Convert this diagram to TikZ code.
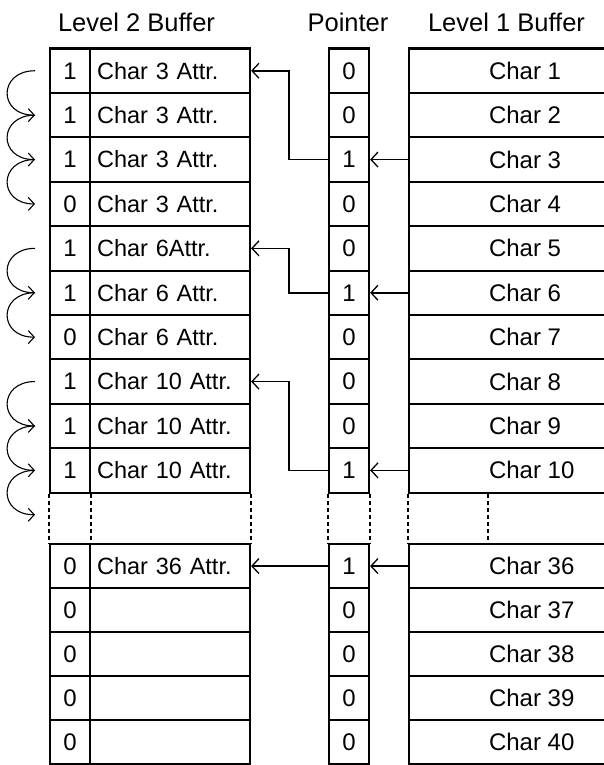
\documentclass[tikz,border=0pt]{standalone}
\usepackage{fontspec}
\setmainfont{Liberation Sans}
\usetikzlibrary{arrows.meta}
\begin{document}
\begin{tikzpicture}[x=1pt,y=-1pt,
  cell/.style={draw, line width=2.1pt, rectangle, anchor=north west, inner sep=0pt,
               font=\fontsize{24}{28}\selectfont},
  bit/.style={cell, minimum width=40pt},
  attr/.style={cell, minimum width=160pt, text width=146pt, align=left, inner xsep=7pt,
               font=\fontsize{23.5}{28}\selectfont},
  chr/.style={cell, minimum width=221pt},
  hdr/.style={anchor=base, inner sep=0pt, font=\fontsize{25.5}{30}\selectfont},
  link/.style={line width=1.7pt, -{Straight Barb[length=7pt,width=15pt,line width=1.3pt]}},
  hop/.style={line width=1.1pt, -{Straight Barb[length=6pt,width=13pt]}},
  gapline/.style={line width=1.7pt, dash pattern=on 4pt off 3pt}]
\clip (0,0) rectangle (604,765);
\fill[white] (0,0) rectangle (604,765);

\node[hdr] (h2) at (136.5,32) {Level 2 Buffer};
\node[hdr] (hp) at (348,32) {Pointer};
\node[hdr] (h1) at (506.5,32) {Level 1 Buffer};

\foreach \i/\b/\t/\p/\c in {
  1/1/Char 3 Attr./0/Char 1,
  2/1/Char 3 Attr./0/Char 2,
  3/1/Char 3 Attr./1/Char 3,
  4/0/Char 3 Attr./0/Char 4,
  5/1/Char 6Attr./0/Char 5,
  6/1/Char 6 Attr./1/Char 6,
  7/0/Char 6 Attr./0/Char 7,
  8/1/Char 10 Attr./0/Char 8,
  9/1/Char 10 Attr./0/Char 9,
  10/1/Char 10 Attr./1/Char 10,
  11/0/Char 36 Attr./1/Char 36,
  12/0//0/Char 37,
  13/0//0/Char 38,
  14/0//0/Char 39,
  15/0//0/Char 40}{
  \pgfmathsetmacro\yy{\i<11 ? 47.5+(\i-1)*44.4 : 543+(\i-11)*44}
  \pgfmathsetmacro\hh{\i<11 ? 44.4 : 44}
  \node[bit, minimum height=\hh pt]  (a\i) at (49,\yy)  {\b};
  \node[attr, minimum height=\hh pt] (b\i) at (89,\yy)  {\t};
  \node[bit, minimum height=\hh pt]  (p\i) at (328,\yy) {\p};
  \node[chr, minimum height=\hh pt]  (l\i) at (408,\yy) {\makebox[61pt][l]{\c}};
}

% dotted gap
\draw[gapline] (a10.south west) -- (a11.north west);
\draw[gapline] (a10.south east) -- (a11.north east);
\draw[gapline] (b10.south east) -- (b11.north east);
\draw[gapline] (p10.south west) -- (p11.north west);
\draw[gapline] (p10.south east) -- (p11.north east);
\draw[gapline] (l10.south west) -- (l11.north west);
\draw[gapline] ([xshift=80pt]l10.south west) -- ([xshift=80pt]l11.north west);

% pointer links
\draw[link] (l3.west) -- (p3.east);
\draw[link] (p3.west) -- ++(-39,0) |- (b1.east);
\draw[link] (l6.west) -- (p6.east);
\draw[link] (p6.west) -- ++(-39,0) |- (b5.east);
\draw[link] (l10.west) -- (p10.east);
\draw[link] (p10.west) -- ++(-39,0) |- (b8.east);
\draw[link] (l11.west) -- (p11.east);
\draw[link] (p11.west) -- (b11.east);

% chain hops
\coordinate (g) at ([yshift=-44.4pt]a10.west);
\foreach \s/\e in {a1/a2, a2/a3, a3/a4, a5/a6, a6/a7, a8/a9, a9/a10, a10/g}{
  \draw[hop] ([xshift=-14pt]\s.west) .. controls ([xshift=-51pt]\s.west) and ([xshift=-51pt]\e.west) .. ([xshift=-14pt]\e.west);
}
\end{tikzpicture}
\end{document}
